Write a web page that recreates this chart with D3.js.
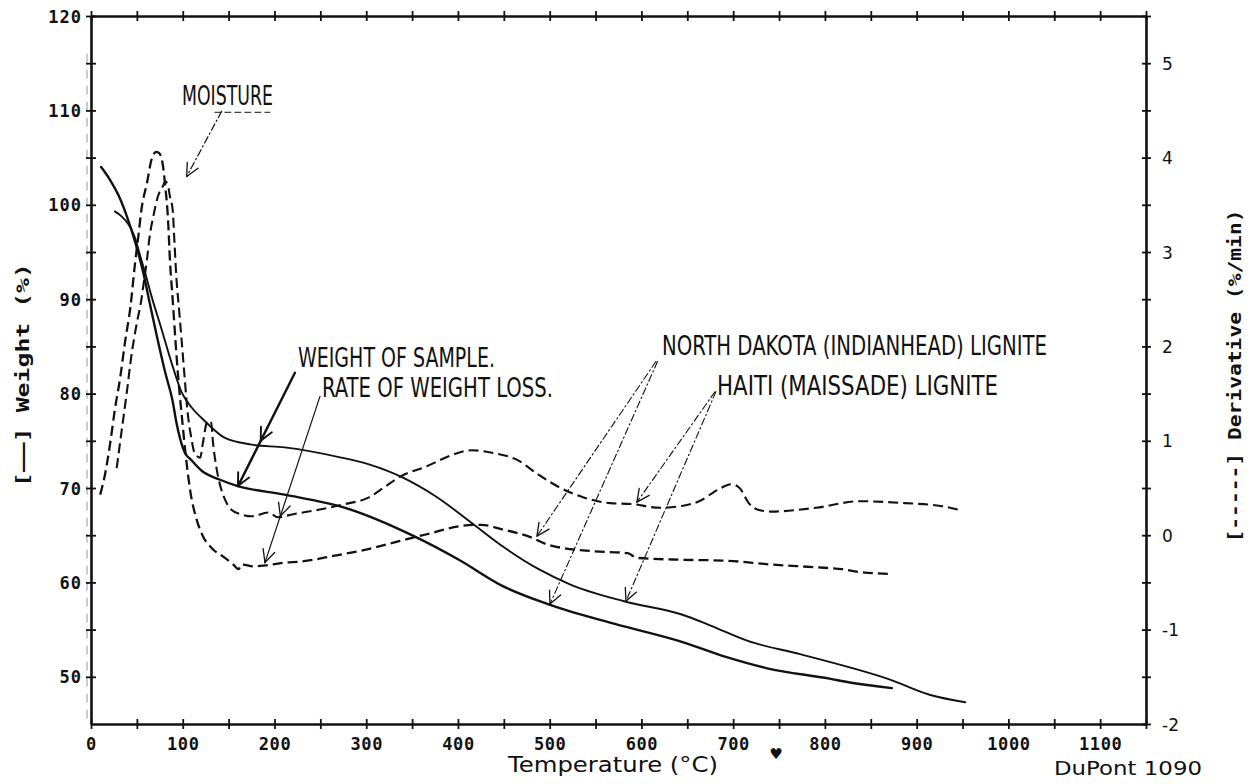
<!DOCTYPE html>
<html>
<head>
<meta charset="utf-8">
<script src="https://cdn.jsdelivr.net/npm/d3@7"></script>
<style>
  body { margin: 0; background: #fff; }
  svg { display: block; }
</style>
</head>
<body>
<svg id="chart" width="1254" height="784"></svg>
<script>
// ---- TGA data: weight (%) vs temperature (°C) ----
const ndWeightTemp = [11, 21, 30, 39, 48, 57, 64, 72, 81, 89, 93, 102, 109, 121, 140, 160, 211, 277, 352, 401, 449, 498, 571, 644, 692, 737, 805, 827, 873];
const ndWeight     = [104.0, 102.6, 101.0, 98.8, 96.1, 92.8, 89.6, 86.0, 82.2, 79.2, 77.0, 73.8, 73.0, 71.8, 70.9, 70.2, 69.3, 67.9, 64.9, 62.4, 59.6, 57.7, 55.6, 53.7, 52.1, 50.9, 49.8, 49.4, 48.8];

const haitiWeightTemp = [26, 33, 41, 48, 53, 59, 66, 77, 88, 99, 110, 124, 146, 175, 211, 269, 303, 340, 376, 415, 449, 488, 522, 581, 644, 676, 716, 773, 827, 871, 914, 953];
const haitiWeight     = [99.3, 98.8, 97.9, 96.5, 94.8, 92.8, 90.3, 86.8, 83.2, 80.1, 78.5, 77.1, 75.3, 74.6, 74.3, 73.3, 72.5, 71.1, 69.1, 66.3, 63.8, 61.4, 59.8, 58.0, 56.6, 55.4, 53.8, 52.4, 51.0, 49.7, 48.1, 47.3];

// ---- DTG data: derivative (%/min) vs temperature (°C) ----
const ndDerivTemp = [10, 15, 21, 26, 32, 37, 43, 48, 52, 55, 61, 66, 71, 74, 78, 81, 84, 86, 89, 92, 95, 99, 103, 108, 115, 122, 132, 146, 155, 161, 164, 177, 190, 211, 228, 264, 301, 337, 366, 405, 425, 449, 479, 498, 547, 585, 595, 644, 692, 741, 790, 819, 838, 873];
const ndDeriv     = [0.43, 0.63, 0.98, 1.33, 1.68, 2.04, 2.42, 2.88, 3.20, 3.45, 3.73, 3.98, 4.06, 4.05, 3.94, 3.69, 3.34, 2.92, 2.50, 2.07, 1.68, 1.26, 0.87, 0.48, 0.17, -0.01, -0.14, -0.24, -0.31, -0.36, -0.31, -0.33, -0.32, -0.29, -0.28, -0.22, -0.15, -0.06, 0.01, 0.10, 0.11, 0.06, -0.02, -0.10, -0.17, -0.19, -0.24, -0.26, -0.27, -0.31, -0.34, -0.36, -0.39, -0.41];

const haitiDerivTemp = [28, 34, 39, 44, 50, 55, 57, 61, 64, 68, 73, 79, 81, 84, 86, 89, 91, 93, 96, 99, 102, 105, 109, 113, 119, 122, 127, 131, 133, 137, 141, 146, 153, 164, 175, 193, 204, 219, 248, 277, 303, 320, 337, 366, 391, 415, 439, 464, 488, 512, 537, 566, 590, 620, 644, 663, 683, 698, 707, 717, 727, 741, 790, 838, 887, 926, 946];
const haitiDeriv     = [0.71, 1.15, 1.51, 1.90, 2.25, 2.50, 2.64, 2.92, 3.17, 3.38, 3.59, 3.71, 3.75, 3.70, 3.59, 3.45, 3.10, 2.74, 2.39, 2.04, 1.68, 1.33, 1.05, 0.87, 0.82, 0.98, 1.21, 1.19, 0.98, 0.70, 0.52, 0.38, 0.27, 0.22, 0.20, 0.24, 0.19, 0.22, 0.27, 0.33, 0.40, 0.51, 0.62, 0.73, 0.84, 0.90, 0.87, 0.80, 0.64, 0.50, 0.40, 0.34, 0.33, 0.29, 0.31, 0.36, 0.48, 0.54, 0.50, 0.34, 0.27, 0.25, 0.29, 0.36, 0.34, 0.31, 0.27];

// ---- axis ticks ----
const tempTicks   = d3.range(0, 1151, 50);
const tempLabels  = d3.range(0, 1101, 100);
const weightTicks = d3.range(50, 121, 5);
const weightLabels = d3.range(50, 121, 10);
const derivTicks  = d3.range(-2, 5.51, 0.5);
const derivLabels = d3.range(-2, 5.1, 1);

// ---- scales ----
const x  = d3.scaleLinear().domain([0, 1150]).range([91, 1146]);
const yW = d3.scaleLinear().domain([45, 120]).range([724, 16]);
const yD = d3.scaleLinear().domain([-2, 5.5]).range([724, 16]);

const svg = d3.select('#chart');
const INK = '#111';
const MONO = '"DejaVu Sans Mono", "Liberation Mono", monospace';
const NARROW = '"Liberation Sans Narrow", "DejaVu Sans Condensed", "Liberation Sans", Arial, sans-serif';

// faint trace running beside the weight axis
svg.append('line')
  .attr('x1', x(0) - 4).attr('x2', x(0) - 4)
  .attr('y1', yW(116)).attr('y2', yW(45.5))
  .attr('stroke', '#999').attr('stroke-width', 1).attr('stroke-dasharray', '9,7');

// ---- axes ----
function styleAxis(g, crossLo, crossHi, vertical) {
  g.select('.domain').attr('stroke', INK).attr('stroke-width', 2.6);
  g.selectAll('.tick line').attr('stroke', INK).attr('stroke-width', 1.8);
  if (vertical) g.selectAll('.tick line').attr('x1', crossLo).attr('x2', crossHi);
  else g.selectAll('.tick line').attr('y1', crossLo).attr('y2', crossHi);
  g.selectAll('.tick text').attr('fill', INK)
    .style('font-family', MONO).style('font-weight', 'bold').style('font-size', '17px');
}

const gBottom = svg.append('g').attr('transform', `translate(0,${yW(45)})`)
  .call(d3.axisBottom(x).tickValues(tempTicks).tickSizeOuter(0)
    .tickFormat(d => tempLabels.includes(d) ? String(d) : ''));
styleAxis(gBottom, -5, 5, false);
gBottom.selectAll('.tick text').attr('y', 26).attr('dy', null).style('letter-spacing', '0.6px');

const gTop = svg.append('g').attr('transform', `translate(0,${yW(120)})`)
  .call(d3.axisTop(x).tickValues(tempTicks).tickSizeOuter(0).tickFormat(''));
styleAxis(gTop, -5, 5, false);

const gLeft = svg.append('g').attr('transform', `translate(${x(0)},0)`)
  .call(d3.axisLeft(yW).tickValues(weightTicks).tickSizeOuter(0)
    .tickFormat(d => weightLabels.includes(d) ? String(d) : ''));
styleAxis(gLeft, -5, 5, true);
gLeft.selectAll('.tick text').attr('x', -9).attr('dy', '0.36em').style('letter-spacing', '1px');

const gRight = svg.append('g').attr('transform', `translate(${x(1150)},0)`)
  .call(d3.axisRight(yD).tickValues(derivTicks).tickSizeOuter(0)
    .tickFormat(d => derivLabels.includes(d) ? String(d) : ''));
styleAxis(gRight, -4, 5, true);
gRight.selectAll('.tick text').attr('x', 16).attr('dy', '0.36em')
  .style('font-family', '"DejaVu Sans", sans-serif').style('font-weight', 'normal').style('font-size', '17px');

// ---- curves ----
const weightLine = d3.line().x(d => x(d[0])).y(d => yW(d[1])).curve(d3.curveMonotoneX);
const derivLine  = d3.line().x(d => x(d[0])).y(d => yD(d[1])).curve(d3.curveMonotoneX);

const curves = svg.append('g').attr('fill', 'none').attr('stroke', INK)
  .attr('stroke-linejoin', 'round').attr('stroke-linecap', 'round');

curves.append('path').attr('d', weightLine(d3.zip(ndWeightTemp, ndWeight))).attr('stroke-width', 2.4);
curves.append('path').attr('d', weightLine(d3.zip(haitiWeightTemp, haitiWeight))).attr('stroke-width', 1.9);
curves.append('path').attr('d', derivLine(d3.zip(ndDerivTemp, ndDeriv)))
  .attr('stroke-width', 2.3).attr('stroke-dasharray', '10,5').attr('stroke-linecap', 'butt');
curves.append('path').attr('d', derivLine(d3.zip(haitiDerivTemp, haitiDeriv)))
  .attr('stroke-width', 2.1).attr('stroke-dasharray', '10,5').attr('stroke-linecap', 'butt');

// ---- annotation pointers (positions in °C / weight-% units) ----
const ann = svg.append('g').attr('fill', 'none').attr('stroke', INK).attr('stroke-linecap', 'round');

function pointer(p0, p1, width, dash, heads) {
  const a = [x(p0[0]), yW(p0[1])], b = [x(p1[0]), yW(p1[1])];
  const dx = b[0] - a[0], dy = b[1] - a[1], len = Math.hypot(dx, dy);
  const ux = dx / len, uy = dy / len;
  ann.append('line').attr('x1', a[0]).attr('y1', a[1]).attr('x2', b[0]).attr('y2', b[1])
    .attr('stroke-width', width).attr('stroke-dasharray', dash);
  heads.forEach(t => {
    const tip = [a[0] + dx * t, a[1] + dy * t];
    [-0.45, 0.45].forEach(ang => {
      const rx = -ux * Math.cos(ang) + uy * Math.sin(ang);
      const ry = -ux * Math.sin(ang) - uy * Math.cos(ang);
      ann.append('line').attr('x1', tip[0]).attr('y1', tip[1])
        .attr('x2', tip[0] + rx * 14).attr('y2', tip[1] + ry * 14)
        .attr('stroke-width', Math.max(1.3, width * 0.8));
    });
  });
}

const DASHDOT = '7,3,1.5,3';
pointer([142.4, 109.9], [104.3, 103.0], 1.2, DASHDOT, [1]);          // moisture
pointer([222.3, 82.2], [160.2, 70.2], 2.4, null, [0.6, 1]);          // weight of sample
pointer([249.6, 79.7], [189.6, 62.1], 1.2, null, [0.72, 1]);         // rate of weight loss
pointer([615.8, 83.4], [486.1, 64.9], 1.1, DASHDOT, [1]);            // North Dakota, DTG
pointer([617.5, 83.4], [500.3, 57.7], 1.1, DASHDOT, [1]);            // North Dakota, TGA
pointer([680.2, 80.2], [595.1, 68.5], 1.1, DASHDOT, [1]);            // Haiti, DTG
pointer([681.2, 80.2], [583.1, 58.0], 1.1, DASHDOT, [1]);            // Haiti, TGA

// dashed rule under the moisture note
ann.append('line').attr('x1', x(135)).attr('x2', x(195)).attr('y1', yW(109.8)).attr('y2', yW(109.8))
  .attr('stroke-width', 1).attr('stroke-dasharray', '6,4');

// ---- annotation texts ----
const notes = [
  { text: 'MOISTURE', t: 99.2, w: 110.57, len: 91 },
  { text: 'WEIGHT OF SAMPLE.', t: 225.6, w: 82.82, len: 197 },
  { text: 'RATE OF WEIGHT LOSS.', t: 251.8, w: 79.64, len: 231 },
  { text: 'NORTH DAKOTA (INDIANHEAD) LIGNITE', t: 622.4, w: 84.09, len: 385 },
  { text: 'HAITI (MAISSADE) LIGNITE', t: 682.4, w: 79.85, len: 281 }
];
svg.append('g').selectAll('text').data(notes).join('text')
  .attr('x', d => x(d.t)).attr('y', d => yW(d.w))
  .attr('textLength', d => d.len).attr('lengthAdjust', 'spacingAndGlyphs')
  .attr('fill', INK).style('font-family', NARROW).style('font-size', '26px')
  .text(d => d.text);

// ---- axis titles ----
svg.append('text')
  .attr('transform', 'translate(22,375) rotate(-90)')
  .attr('text-anchor', 'middle').attr('dominant-baseline', 'central')
  .attr('textLength', 224).attr('lengthAdjust', 'spacingAndGlyphs')
  .attr('fill', INK).style('font-family', MONO).style('font-weight', 'bold').style('font-size', '18px')
  .text('[——] Weight (%)');

svg.append('text')
  .attr('transform', 'translate(1234,376) rotate(-90)')
  .attr('text-anchor', 'middle').attr('dominant-baseline', 'central')
  .attr('textLength', 333).attr('lengthAdjust', 'spacingAndGlyphs')
  .attr('fill', INK).style('font-family', MONO).style('font-weight', 'bold').style('font-size', '18px')
  .text('[-----] Derivative (%/min)');

svg.append('text')
  .attr('x', 613).attr('y', 772).attr('text-anchor', 'middle')
  .attr('textLength', 210).attr('lengthAdjust', 'spacingAndGlyphs')
  .attr('fill', INK).style('font-family', '"DejaVu Sans", sans-serif').style('font-size', '21px')
  .text('Temperature (°C)');

svg.append('text')
  .attr('x', 1054).attr('y', 775)
  .attr('textLength', 148).attr('lengthAdjust', 'spacingAndGlyphs')
  .attr('fill', INK).style('font-family', '"DejaVu Sans", sans-serif').style('font-size', '19px')
  .text('DuPont 1090');

// small plotter mark under the axis
svg.append('text')
  .attr('x', 776).attr('y', 759).attr('text-anchor', 'middle')
  .attr('fill', INK).style('font-family', '"DejaVu Sans", sans-serif').style('font-size', '15px')
  .text('♥');
</script>
</body>
</html>
